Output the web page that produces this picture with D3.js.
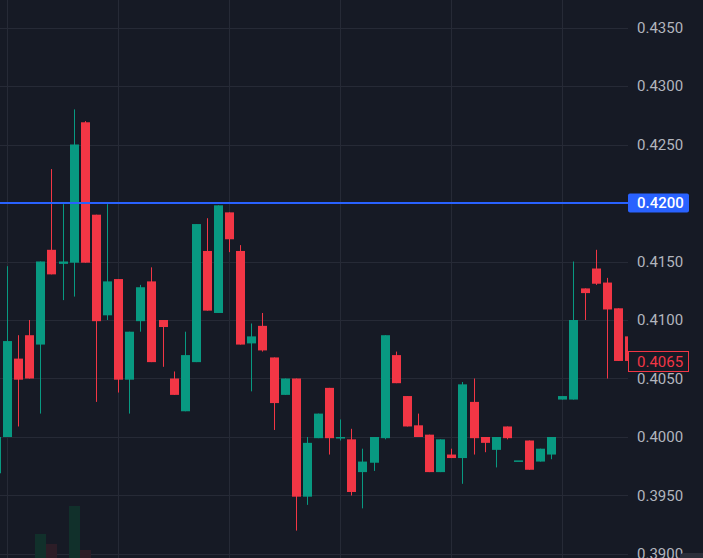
<!DOCTYPE html>
<html><head><meta charset="utf-8">
<script src="https://cdn.jsdelivr.net/npm/d3@7"></script>
<style>html,body{margin:0;padding:0;background:#161a25;overflow:hidden}svg{display:block}</style>
</head><body>
<svg id="c" width="703" height="558"></svg>
<script>
// Candle data (index 0 is the partially visible candle at the left edge)
const opens  = [.3969,.4000,.4067,.4087,.4079,.4160,.4148,.4149,.4269,.4190,.4104,.4135,.4049,.4099,.4133,.4100,.4050,.4022,.4064,.4159,.4106,.4192,.4159,.4080,.4095,.4068,.4036,.4050,.3949,.3999,.4042,.3999,.3998,.3970,.3978,.3999,.4070,.4035,.4010,.4002,.3970,.3985,.3982,.4030,.4000,.3989,.4009,.3980,.3997,.3979,.3985,.4032,.4032,.4127,.4144,.4132,.4110,.4086];
const highs  = [.4000,.4146,.4087,.4100,.4150,.4229,.4199,.4280,.4270,.4190,.4199,.4135,.4090,.4130,.4145,.4100,.4056,.4090,.4182,.4187,.4198,.4192,.4164,.4097,.4106,.4068,.4050,.4050,.4000,.4020,.4042,.4015,.4007,.3990,.4000,.4087,.4073,.4035,.4020,.4002,.3998,.3990,.4047,.4050,.4000,.4000,.4009,.3980,.3997,.3990,.4000,.4035,.4150,.4127,.4160,.4136,.4110,.4086];
const lows   = [.3969,.4000,.4009,.4050,.4020,.4139,.4117,.4120,.4149,.4030,.4100,.4038,.4020,.4090,.4064,.4060,.4036,.4022,.4064,.4108,.4106,.4158,.4079,.4039,.4073,.4006,.4036,.3920,.3942,.3999,.3985,.3997,.3950,.3939,.3971,.3998,.4046,.4009,.4000,.3970,.3970,.3982,.3960,.3985,.3987,.3974,.3998,.3980,.3972,.3979,.3981,.4032,.4032,.4100,.4130,.4050,.4065,.4065];
const closes = [.4000,.4082,.4049,.4050,.4150,.4139,.4150,.4250,.4149,.4099,.4133,.4049,.4090,.4128,.4064,.4094,.4036,.4070,.4182,.4108,.4198,.4169,.4079,.4086,.4074,.4029,.4050,.3949,.3995,.4020,.3999,.4000,.3953,.3979,.4000,.4087,.4046,.4009,.4000,.3970,.3998,.3982,.4045,.3999,.3995,.4000,.3999,.3980,.3972,.3990,.4000,.4035,.4100,.4123,.4131,.4109,.4065,.4065];
const volumes = [22,18,25,20,66,56,30,94,50,35,28,24,20,26,22,18,16,24,30,28,34,26,32,20,18,22,20,38,30,18,20,14,24,20,16,30,22,18,16,20,18,12,28,22,14,16,12,10,18,14,16,12,36,20,22,24,26,14];
const tickLabels = ["0.4350","0.4300","0.4250","0.4200","0.4150","0.4100","0.4050","0.4000","0.3950","0.3900"];
const timeGridIdx = [1,11,21,31,41,51];
const hLinePrice = 0.42;
const lastPrice = 0.4065;

const W = 703, H = 558, plotR = 628;
const up = "#089981", down = "#f23645";
const svg = d3.select("#c");
svg.append("rect").attr("width",W).attr("height",H).attr("fill","#161a25");

const n = opens.length;
const x = d3.scaleLinear().domain([0, n-1]).range([-3.6, 629.5]);
const y = d3.scaleLinear().domain([0.39, 0.435]).range([554, 27.5]);
const vy = d3.scaleLinear().domain([0, 100]).range([600, 500]);
const cx = i => Math.round(x(i) - 0.5) + 0.5;
const ticks = tickLabels.map(Number);

svg.append("defs").append("clipPath").attr("id","pc")
  .append("rect").attr("x",0).attr("y",0).attr("width",plotR).attr("height",H);

// grid
const grid = svg.append("g").attr("clip-path","url(#pc)");
grid.selectAll("line.h").data(ticks).join("line")
  .attr("x1",0).attr("x2",plotR)
  .attr("y1",d=>Math.round(y(d))+0.5).attr("y2",d=>Math.round(y(d))+0.5)
  .attr("stroke","#262a36").attr("stroke-width",1);
grid.selectAll("line.v").data(timeGridIdx).join("line")
  .attr("x1",d=>cx(d)).attr("x2",d=>cx(d)).attr("y1",0).attr("y2",H)
  .attr("stroke","#262a36").attr("stroke-width",1);

const idx = d3.range(n);
const plot = svg.append("g").attr("clip-path","url(#pc)");
// volume
plot.selectAll("rect.vol").data(idx).join("rect")
  .attr("x",i=>cx(i)-5.5).attr("width",11)
  .attr("y",i=>vy(volumes[i])).attr("height",i=>vy(0)-vy(volumes[i]))
  .attr("fill",i=>closes[i]>=opens[i]?"#11302b":"#2c1d27");
// wicks
plot.selectAll("line.wick").data(idx).join("line")
  .attr("x1",i=>cx(i)).attr("x2",i=>cx(i))
  .attr("y1",i=>y(highs[i])).attr("y2",i=>y(lows[i]))
  .attr("stroke",i=>closes[i]>=opens[i]?up:down).attr("stroke-width",1);
// bodies
plot.selectAll("rect.body").data(idx).join("rect")
  .attr("x",i=>cx(i)-4.5).attr("width",9)
  .attr("y",i=>y(Math.max(opens[i],closes[i])))
  .attr("height",i=>Math.max(1.5, Math.abs(y(opens[i])-y(closes[i]))))
  .attr("fill",i=>closes[i]>=opens[i]?up:down);

// horizontal line
plot.append("line").attr("x1",0).attr("x2",plotR)
  .attr("y1",y(hLinePrice)).attr("y2",y(hLinePrice))
  .attr("stroke","#2962ff").attr("stroke-width",2);

// price axis
const font = "Roboto, 'Noto Sans', sans-serif";
const fs = "15px";
const axis = d3.axisRight(y).tickValues(ticks).tickFormat(d=>d.toFixed(4)).tickSize(0).tickPadding(9);
const ag = svg.append("g").attr("transform",`translate(${plotR},0)`).call(axis);
ag.select(".domain").remove();
ag.selectAll("text").attr("fill","#b2b5be").style("font-family",font).style("font-size",fs);
ag.selectAll(".tick").filter(d=>Math.abs(d-hLinePrice)<1e-9).remove();

// blue label
const bl = svg.append("g");
bl.append("rect").attr("x",plotR).attr("y",y(hLinePrice)-9.5).attr("width",61).attr("height",19).attr("rx",2).attr("fill","#2962ff");
bl.append("text").attr("x",plotR+9).attr("y",y(hLinePrice)).attr("dy","0.35em")
  .attr("fill","#ffffff").style("font-family",font).style("font-size",fs).style("font-weight","500").text(hLinePrice.toFixed(4));

// last price label
const ll = svg.append("g");
ll.append("rect").attr("x",plotR+0.5).attr("y",Math.round(y(lastPrice))-9.5).attr("width",60).attr("height",20)
  .attr("fill","#161a25").attr("stroke",down).attr("stroke-width",1);
ll.append("text").attr("x",plotR+9).attr("y",y(lastPrice)+0.5).attr("dy","0.35em")
  .attr("fill",down).style("font-family",font).style("font-size",fs).text(lastPrice.toFixed(4));

// bottom-right control
svg.append("rect").attr("x",680).attr("y",553).attr("width",30).attr("height",12).attr("rx",4).attr("fill","#2a2e39");
</script>
</body></html>
